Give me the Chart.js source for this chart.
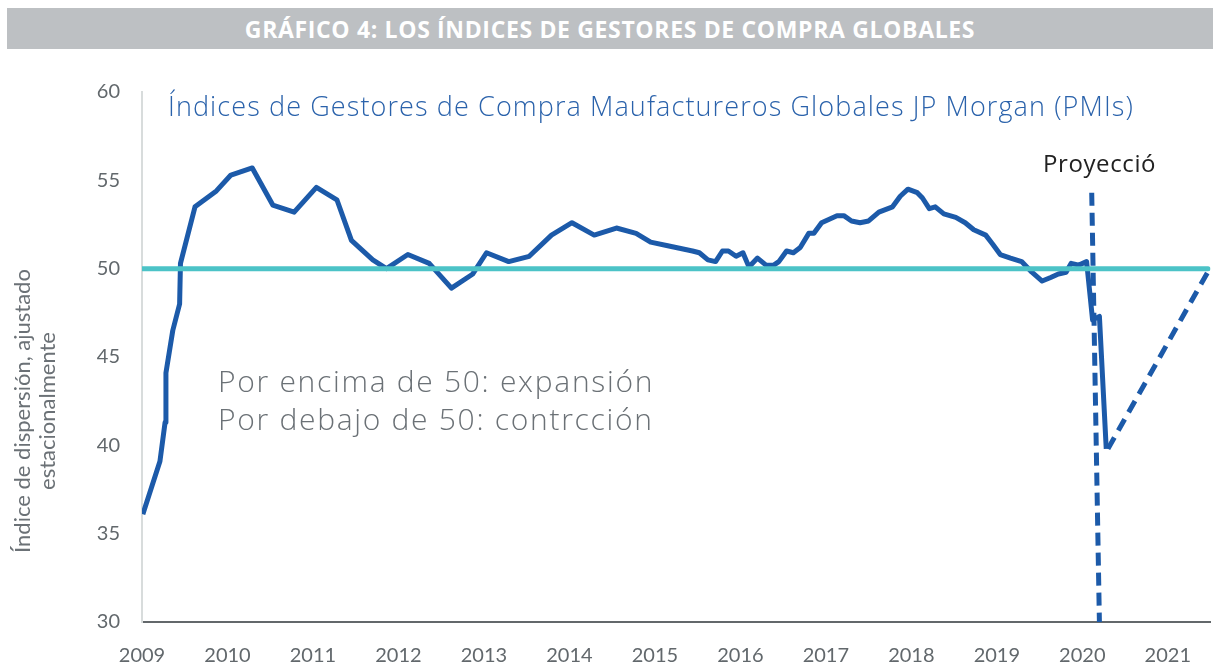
<!DOCTYPE html>
<html>
<head>
<meta charset="utf-8">
<script src="https://cdn.jsdelivr.net/npm/chart.js@4/dist/chart.umd.min.js"></script>
<style>
	body { margin: 0; background: #fff; }
	#wrap { position: relative; width: 1213px; height: 668px; }
	#header {
		position: absolute; left: 7px; top: 8px; width: 1206px; height: 41px;
		background: #bdc0c3; color: #fff; font: 700 23px "Open Sans", sans-serif;
		letter-spacing: 0.65px;
		display: flex; align-items: center; justify-content: center;
	}
	canvas { position: absolute; left: 0; top: 0; }
</style>
</head>
<body>
<div id="wrap">
	<canvas id="chart-pmi" width="1213" height="668"></canvas>
	<div id="header">GRÁFICO 4: LOS ÍNDICES DE GESTORES DE COMPRA GLOBALES</div>
</div>
<script>
// Global PMI, decimal years
const PMI_YEARS = [
	2009.01, 2009.21, 2009.27, 2009.28, 2009.36, 2009.44, 2009.45, 2009.62, 2009.87, 2010.04,
	2010.29, 2010.53, 2010.78, 2011.04, 2011.28, 2011.45, 2011.70, 2011.86, 2012.11, 2012.36,
	2012.62, 2012.87, 2013.03, 2013.29, 2013.53, 2013.79, 2014.03, 2014.29, 2014.55, 2014.78,
	2014.95, 2015.15, 2015.44, 2015.52, 2015.62, 2015.71, 2015.79, 2015.86, 2015.95, 2016.03,
	2016.10, 2016.20, 2016.30, 2016.39, 2016.45, 2016.54, 2016.62, 2016.70, 2016.80, 2016.86,
	2016.95, 2017.04, 2017.13, 2017.21, 2017.30, 2017.40, 2017.50, 2017.62, 2017.78, 2017.87,
	2017.96, 2018.07, 2018.13, 2018.21, 2018.28, 2018.38, 2018.52, 2018.63, 2018.73, 2018.87,
	2018.95, 2019.04, 2019.16, 2019.29, 2019.41, 2019.53, 2019.63, 2019.72, 2019.81, 2019.87,
	2019.96, 2020.05, 2020.12, 2020.20, 2020.28,
];
const PMI_VALUES = [
	36.1, 39.1, 41.3, 44.1, 46.5, 48.0, 50.3, 53.5, 54.4, 55.3,
	55.7, 53.6, 53.2, 54.6, 53.9, 51.6, 50.5, 50.0, 50.8, 50.3,
	48.9, 49.7, 50.9, 50.4, 50.7, 51.9, 52.6, 51.9, 52.3, 52.0,
	51.5, 51.3, 51.0, 50.9, 50.5, 50.4, 51.0, 51.0, 50.7, 50.9,
	50.1, 50.6, 50.2, 50.2, 50.4, 51.0, 50.9, 51.2, 52.0, 52.0,
	52.6, 52.8, 53.0, 53.0, 52.7, 52.6, 52.7, 53.2, 53.5, 54.1,
	54.5, 54.3, 54.0, 53.4, 53.5, 53.1, 52.9, 52.6, 52.2, 51.9,
	51.4, 50.8, 50.6, 50.4, 49.8, 49.3, 49.5, 49.7, 49.8, 50.3,
	50.2, 50.4, 47.1, 47.3, 39.8,
];

// Projection back to 50 and the "Proyección" marker
const PROJ_YEARS = [2020.30, 2021.49];
const PROJ_VALUES = [39.8, 50.0];
const MARK_YEARS = [2020.11, 2020.20];
const MARK_VALUES = [54.3, 30];

// Threshold line
const LINE_YEARS = [2009.0, 2021.47];
const LINE_VALUES = [50, 50];

const X_MIN = 2009;
const X_MAX = 2021.5;
const Y_TICKS = [30, 35, 40, 45, 50, 55, 60];

const BLUE = "#1c5aa9";
const TEAL = "#4cc3c7";
const MUTED = "#62686c";
const FONT = "Lato, sans-serif";
const TEXT_FONT = "'Open Sans', sans-serif";

const toPoints = (xs, ys) => xs.map((x, i) => ({ x: x, y: ys[i] }));

// Texts inside the chart
const chartTexts = {
	id: "chartTexts",
	afterDraw(chart) {
		const { ctx, chartArea } = chart;
		const L = chartArea.left;
		ctx.save();
		ctx.textBaseline = "middle";
		ctx.textAlign = "left";

		ctx.font = "300 27px " + TEXT_FONT;
		ctx.letterSpacing = "1.1px";
		ctx.fillStyle = "#2a62ab";
		ctx.fillText("Índices de Gestores de Compra Maufactureros Globales JP Morgan (PMIs)", L + 26, 108);

		ctx.font = "300 30px " + TEXT_FONT;
		ctx.letterSpacing = "1.7px";
		ctx.fillStyle = "#6b7176";
		ctx.fillText("Por encima de 50: expansión", L + 76, 383);
		ctx.fillText("Por debajo de 50: contrcción", L + 76, 421);

		ctx.font = "400 24px " + TEXT_FONT;
		ctx.letterSpacing = "0.6px";
		ctx.fillStyle = "#222";
		ctx.fillText("Proyecció", 1043, 165);

		// y axis title
		ctx.letterSpacing = "0px";
		ctx.translate(0, 411);
		ctx.rotate(-Math.PI / 2);
		ctx.textAlign = "center";
		ctx.font = "22px " + FONT;
		ctx.fillStyle = "#6b7176";
		ctx.fillText("Índice de dispersión, ajustado", 0, 23);
		ctx.fillText("estacionalmente", 0, 48);
		ctx.restore();
	},
};

const WRAPPER = document.getElementById("chart-pmi");

const DATA = {
	datasets: [
		{
			label: "50",
			data: toPoints(LINE_YEARS, LINE_VALUES),
			borderColor: TEAL,
			borderWidth: 5,
			borderCapStyle: "round",
			pointRadius: 0,
			order: 0,
		},
		{
			label: "PMI",
			data: toPoints(PMI_YEARS, PMI_VALUES),
			borderColor: BLUE,
			borderWidth: 5,
			borderJoinStyle: "round",
			pointRadius: 0,
			order: 1,
		},
		{
			label: "Proyección",
			data: toPoints(PROJ_YEARS, PROJ_VALUES),
			borderColor: BLUE,
			borderWidth: 5,
			borderDash: [13, 8],
			pointRadius: 0,
			order: 2,
		},
		{
			label: "Marca",
			data: toPoints(MARK_YEARS, MARK_VALUES),
			borderColor: BLUE,
			borderWidth: 5,
			borderDash: [13, 7],
			pointRadius: 0,
			order: 3,
		},
	],
};

const CONFIG = {
	type: "line",
	data: DATA,
	options: {
		responsive: false,
		animation: false,
		layout: {
			padding: { top: 92, right: 0, bottom: 0, left: 0 },
		},
		plugins: {
			legend: { display: false },
			title: { display: false },
			tooltip: { enabled: false },
		},
		scales: {
			x: {
				type: "linear",
				min: X_MIN,
				max: X_MAX,
				border: { display: true, color: "#63686b", width: 2 },
				grid: { drawOnChartArea: false, drawTicks: false },
				ticks: {
					stepSize: 1,
					includeBounds: false,
					padding: 22,
					color: MUTED,
					font: { family: FONT, size: 20 },
					maxRotation: 0,
					callback: (v) => (Number.isInteger(v) ? String(v) : ""),
				},
				afterFit: (scale) => { scale.height = 46; },
			},
			y: {
				min: 30,
				max: 60,
				border: { display: true, color: "#d8dcdc", width: 2 },
				grid: { drawOnChartArea: false, drawTicks: false },
				afterBuildTicks: (scale) => { scale.ticks = Y_TICKS.map((v) => ({ value: v })); },
				ticks: {
					padding: 22,
					color: MUTED,
					font: { family: FONT, size: 20 },
				},
				afterFit: (scale) => { scale.width = 142; },
			},
		},
	},
	plugins: [chartTexts],
};

// Init chart
if (WRAPPER) {
	new Chart(WRAPPER, CONFIG);
}
</script>
</body>
</html>
